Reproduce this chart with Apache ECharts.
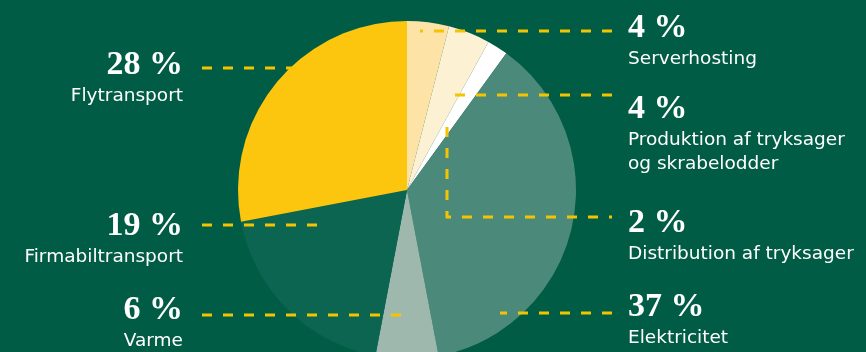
<!DOCTYPE html>
<html>
<head>
<meta charset="utf-8">
<script src="https://cdn.jsdelivr.net/npm/echarts@6/dist/echarts.min.js"></script>
<style>
  html, body { margin: 0; padding: 0; background: #005c45; }
  #chart { width: 866px; height: 352px; }
</style>
</head>
<body>
<div id="chart"></div>
<script>
// clockwise from 12 o'clock
const categories = [
  'Serverhosting',
  'Produktion af tryksager\nog skrabelodder',
  'Distribution af tryksager',
  'Elektricitet',
  'Varme',
  'Firmabiltransport',
  'Flytransport'
]
const shares = [4, 4, 2, 37, 6, 19, 28]
const sliceColors = ['#fde3a6', '#fdf1d4', '#ffffff', '#4b8a7a', '#9eb8ae', '#0b6551', '#fcc60f']

// label anchor (x, top of text block, side) and the dashed guide for each slice
const labelPos = [
  [628, 9, 'left'],
  [628, 90, 'left'],
  [628, 204, 'left'],
  [628, 288, 'left'],
  [183, 291, 'right'],
  [183, 207, 'right'],
  [183, 46, 'right']
]
const guides = [
  [[612, 31], [520, 31], [420, 31]],
  [[612, 95], [530, 95], [446, 95]],
  [[447, 127], [447, 217], [612, 217]],
  [[612, 313], [560, 313], [500, 313]],
  [[202, 315], [300, 315], [410, 315]],
  [[202, 225], [260, 225], [318, 225]],
  [[202, 68], [250, 68], [300, 68]]
]

const chart = echarts.init(document.getElementById('chart'))

const pieBase = {
  type: 'pie',
  center: [407, 190],
  radius: 169,
  startAngle: 90,
  clockwise: true,
  silent: true
}

const option = {
  backgroundColor: '#005c45',
  animation: false,
  series: [
    {
      ...pieBase,
      z: 2,
      data: categories.map((name, i) => ({
        name,
        value: shares[i],
        itemStyle: { color: sliceColors[i] }
      })),
      label: { show: false },
      labelLine: { show: false }
    },
    {
      // transparent copy that only carries the labels, so the dashed guides sit on top
      ...pieBase,
      z: 5,
      data: categories.map((name, i) => ({ name, value: shares[i] })),
      itemStyle: { color: 'rgba(0,0,0,0)' },
      label: {
        show: true,
        position: 'outer',
        alignTo: 'none',
        formatter: p => `{v|${p.value} %}\n{n|${p.name.split('\n').join('}\n{n|')}}`,
        rich: {
          v: {
            fontFamily: 'Liberation Serif',
            fontWeight: 'bold',
            fontSize: 34,
            lineHeight: 38,
            color: '#ffffff'
          },
          n: {
            fontFamily: 'DejaVu Sans',
            fontSize: 18.5,
            lineHeight: 24,
            color: '#ffffff'
          }
        }
      },
      labelLine: {
        show: true,
        length: 10,
        length2: 10,
        smooth: false,
        lineStyle: {
          color: '#f5c400',
          width: 3,
          type: [10, 11]
        }
      },
      labelLayout: params => {
        const [x, y, align] = labelPos[params.dataIndex]
        return {
          x,
          y,
          align,
          verticalAlign: 'top',
          labelLinePoints: guides[params.dataIndex]
        }
      }
    }
  ]
}

chart.setOption(option)
</script>
</body>
</html>
